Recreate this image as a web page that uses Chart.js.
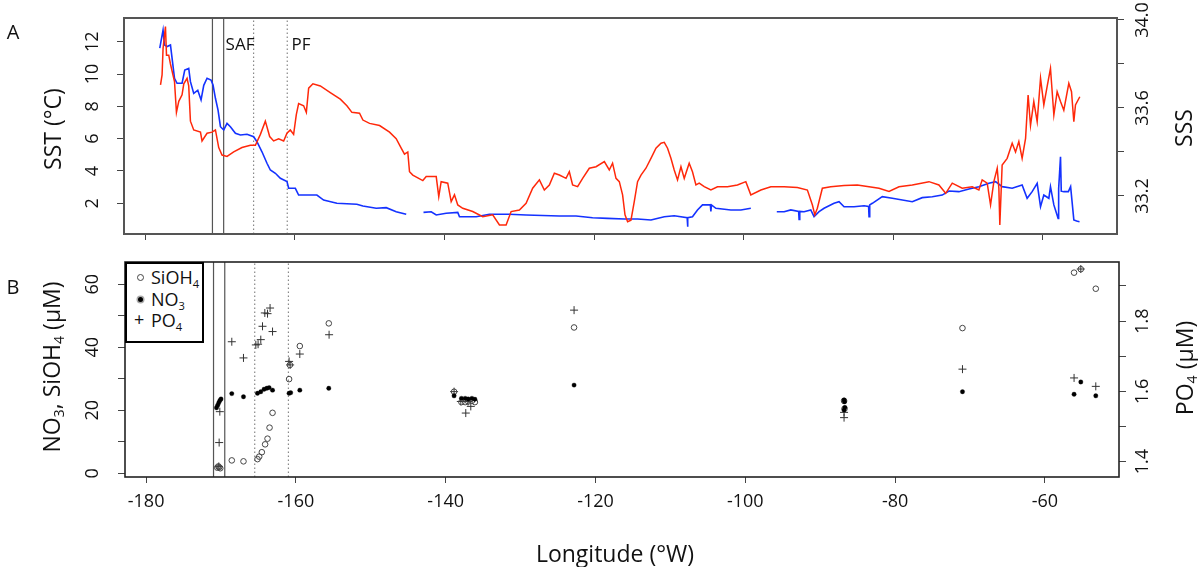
<!DOCTYPE html>
<html><head><meta charset="utf-8">
<script src="https://cdn.jsdelivr.net/npm/chart.js@4.4.1/dist/chart.umd.min.js"></script>
<style>
body{margin:0;background:#fff;}
#wrap{position:relative;width:1198px;height:567px;overflow:hidden;background:#fff;font-family:'Open Sans',sans-serif;color:#111;}
canvas{position:absolute;left:0;}
.t{position:absolute;white-space:nowrap;transform:translate(-50%,-50%);line-height:1;}
.r{transform:translate(-50%,-50%) rotate(-90deg);}
sub{font-size:0.62em;vertical-align:-0.32em;line-height:0;}
#leg{position:absolute;left:125px;top:262px;width:75px;height:77px;border:2px solid #000;background:#fff;}
#leg .s{position:absolute;}
#leg .l{position:absolute;left:24px;font-size:18px;line-height:1;transform:translateY(-50%);white-space:nowrap;}
</style></head><body>
<div id="wrap">
<canvas id="topc" width="1198" height="250" style="top:0"></canvas>
<canvas id="botc" width="1198" height="317" style="top:250px"></canvas>
<div class="t" style="left:13px;top:32px;font-size:20px">A</div>
<div class="t" style="left:13px;top:287px;font-size:20px">B</div>
<div class="t r" style="left:52px;top:129px;font-size:23px">SST (°C)</div>
<div class="t r" style="left:1183px;top:128px;font-size:23px">SSS</div>
<div class="t r" style="left:51px;top:367px;font-size:23px">NO<sub>3</sub>, SiOH<sub>4</sub> (µM)</div>
<div class="t r" style="left:1184px;top:368px;font-size:23px">PO<sub>4</sub> (µM)</div>
<div class="t" style="left:615px;top:553px;font-size:23px">Longitude (°W)</div>
<div class="t" style="left:240px;top:43px;font-size:17px">SAF</div>
<div class="t" style="left:301px;top:43px;font-size:17px">PF</div>
<div id="leg">
  <span class="s" style="left:10px;top:10px;width:5px;height:5px;border:1px solid #444;border-radius:50%"></span>
  <span class="l" style="top:13px">SiOH<sub>4</sub></span>
  <span class="s" style="left:10.5px;top:32.5px;width:5px;height:5px;background:#000;border-radius:50%;box-shadow:0 0 0 1.5px #aaa"></span>
  <span class="l" style="top:35px">NO<sub>3</sub></span>
  <span class="s" style="left:7px;top:45px;font-size:18px;line-height:20px">+</span>
  <span class="l" style="top:56px">PO<sub>4</sub></span>
</div>
</div>
<script>
// ---- axis ticks ----
const xTicks = [-180, -160, -140, -120, -100, -80, -60];
const sstTicks = [2, 4, 6, 8, 10, 12];
const sssTicks = [33.2, 33.4, 33.6, 33.8, 34.0];
const sssLabels = [33.2, 33.6, 34.0];
const nutTicks = [0, 10, 20, 30, 40, 50, 60];
const nutLabels = [0, 20, 40, 60];
const po4Ticks = [1.4, 1.5, 1.6, 1.7, 1.8, 1.9];
const po4Labels = [1.4, 1.6, 1.8];

// ---- fronts (longitude) ----
const solidFronts = [-171.0, -169.5];
const dottedFronts = [-165.5, -161.0];

// ---- SST (blue, left axis) ----
const sstLon = [-178.04,-177.6,-177.41,-177.06,-176.61,-176.4,-176.07,-175.73,-175.06,-174.7,-174.17,-173.94,-173.5,-172.96,-172.52,-172.16,-171.72,-171.19,-170.92,-170.6,-170.25,-169.93,-169.49,-169.05,-168.6,-167.93,-167.26,-166.38,-165.49,-165.05,-164.38,-163.71,-163.26,-162.59,-161.92,-161.04,-160.81,-159.92,-159.48,-157.92,-157.04,-156.14,-154.37,-151.7,-150.89,-149.11,-147.77,-146.44,-145.1,
 -144.0,
 -142.79,-141.76,-141.09,-139.76,-138.21,-137.98,-135.75,-133.98,-131.31,-129.08,-124.63,-122.4,-120.19,-118.18,-115.95,-114.18,-112.39,-110.61,-109.28,-107.55,-107.5,-107.45,-106.84,-106.17,-105.5,-104.45,-104.38,-104.3,-103.71,-101.71,-100.37,-99.04,
 -97.0,
 -95.57,-94.59,-93.7,-92.65,-92.59,-92.5,-91.92,-91.03,-90.59,-89.92,-89.25,-87.92,-87.25,-86.58,-85.25,-83.91,-83.3,-83.24,-83.15,-82.8,-81.47,-80.13,-77.46,-76.13,-74.79,-73.46,-72.56,-71.23,-69.89,-68.56,-67.22,-66.33,-65.45,-64.11,-62.78,-62.11,-61.44,-60.77,-60.32,-59.88,-59.21,-58.99,-58.54,-57.97,-57.9,-57.65,-57.55,-57.2,-56.6,-56.3,-55.87,-55.5,-55.11];
const sstVal = [11.6,12.72,11.8,11.7,11.8,11.0,9.74,9.43,9.43,10.25,10.35,9.53,8.8,9.0,8.4,9.3,9.74,9.63,9.32,8.5,7.77,6.74,6.54,6.95,6.74,6.33,6.23,6.27,6.12,5.81,5.19,4.48,4.06,3.86,3.55,3.34,2.93,2.93,2.51,2.51,2.51,2.2,2.0,1.94,1.83,1.69,1.73,1.48,1.32,
 null,
 1.44,1.48,1.28,1.38,1.44,1.17,1.17,1.32,1.32,1.28,1.21,1.21,1.11,1.07,1.03,1.03,0.97,1.17,1.23,1.11,0.55,1.11,1.17,1.59,1.9,1.9,1.5,1.9,1.69,1.59,1.59,1.69,
 null,
 1.48,1.48,1.59,1.5,1.0,1.5,1.48,1.59,1.17,1.48,1.69,2.0,2.1,1.79,1.79,1.85,1.8,1.17,1.9,2.0,2.41,2.31,2.1,2.35,2.41,2.51,2.76,2.72,2.88,3.03,3.24,3.34,3.03,2.93,3.13,2.31,2.72,3.24,1.79,2.51,2.31,3.03,1.9,1.07,2.9,4.88,2.75,2.72,2.72,3.03,0.97,0.9,0.86];

// ---- SSS (red, right axis) ----
const sssLon = [-177.94,-177.73,-177.6,-177.28,-177.14,-176.84,-176.61,-176.07,-175.81,-175.5,-175.06,-174.83,-174.39,-174.17,-173.94,-173.5,-172.6,-172.39,-171.72,-171.05,-170.6,-170.16,-169.72,-169.05,-168.16,-167.05,-165.93,-165.26,-164.59,-163.93,-163.35,-162.82,-162.15,-161.48,-161.04,-160.59,-160.15,-159.79,-159.48,-158.81,-158.45,-158.14,-157.57,-156.58,-155.25,-153.91,-153.03,-152.36,-151.34,-150.89,-150.0,-148.66,-147.33,-146.44,-145.77,-145.33,-144.89,-144.66,-144.22,-142.88,-142.43,-141.09,-140.75,-140.43,-139.55,-139.09,-138.65,-138.21,-137.54,-136.21,-134.87,-133.54,-132.64,-131.75,-131.08,-129.97,-129.08,-128.2,-127.3,-126.64,-125.97,-125.3,-124.63,-123.74,-123.3,-122.86,-122.19,-121.52,-120.63,-119.73,-118.62,-117.96,-117.52,-117.06,-116.62,-116.18,-115.86,-115.51,-115.06,-114.62,-114.18,-113.72,-113.06,-112.39,-111.72,-111.05,-110.61,-110.17,-109.72,-109.28,-108.84,-108.38,-107.94,-107.28,-106.84,-106.38,-105.94,-105.27,-104.38,-103.5,-102.16,-100.83,-99.71,-99.04,-97.7,-96.37,-94.59,-92.82,-91.48,-90.81,-90.49,-90.15,-89.48,-88.36,-86.58,-84.81,-83.24,-81.91,-80.57,-79.24,-77.46,-75.23,-73.9,-73.0,-72.12,-70.79,-69.45,-68.56,-68.12,-67.45,-67.0,-66.56,-66.11,-65.89,-65.76,-65.45,-64.78,-64.11,-63.66,-63.22,-62.78,-62.32,-61.98,-61.66,-61.22,-60.77,-60.32,-59.88,-59.44,-58.99,-58.54,-58.1,-57.65,-57.21,-56.54,-56.18,-55.87,-55.65,-55.07];
const sssVal = [33.705,33.75,33.87,33.97,33.84,33.84,33.80,33.72,33.58,33.63,33.66,33.71,33.735,33.70,33.54,33.50,33.49,33.45,33.485,33.49,33.50,33.42,33.386,33.38,33.40,33.42,33.43,33.43,33.48,33.54,33.47,33.45,33.46,33.45,33.485,33.50,33.48,33.57,33.62,33.61,33.58,33.69,33.71,33.70,33.67,33.64,33.61,33.58,33.576,33.545,33.53,33.52,33.49,33.46,33.417,33.39,33.40,33.31,33.295,33.27,33.288,33.288,33.197,33.265,33.258,33.174,33.205,33.159,33.144,33.129,33.106,33.114,33.068,33.068,33.129,33.136,33.167,33.235,33.273,33.227,33.25,33.303,33.295,33.28,33.31,33.25,33.242,33.28,33.326,33.333,33.356,33.318,33.349,33.28,33.265,33.205,33.114,33.083,33.09,33.174,33.265,33.295,33.326,33.371,33.417,33.44,33.444,33.417,33.371,33.318,33.273,33.333,33.28,33.349,33.31,33.25,33.258,33.242,33.227,33.242,33.242,33.25,33.265,33.205,33.227,33.242,33.242,33.238,33.227,33.159,33.114,33.144,33.235,33.242,33.247,33.25,33.242,33.235,33.22,33.242,33.25,33.265,33.25,33.212,33.258,33.235,33.242,33.227,33.273,33.258,33.159,33.265,33.326,33.235,33.068,33.341,33.371,33.44,33.40,33.447,33.371,33.462,33.659,33.52,33.629,33.538,33.735,33.614,33.697,33.78,33.568,33.674,33.629,33.59,33.712,33.674,33.538,33.614,33.651];

// ---- nutrients ----
const siLon = [-170.5,-170.35,-170.25,-170.1,-168.56,-167.0,-165.13,-164.9,-164.55,-164.11,-163.79,-163.52,-163.12,-160.91,-160.8,-159.48,-155.61,-138.88,-137.9,-137.4,-137.0,-136.5,-136.1,-122.86,-86.81,-86.75,-71.0,-56.1,-55.2,-53.2];
const siVal = [1.8,2.2,1.9,1.6,4.1,3.8,4.5,5.3,6.7,9.2,11.0,14.5,19.2,29.9,34.4,40.4,47.6,25.9,22.6,22.6,22.8,23.0,22.6,46.3,23.0,20.5,46.1,63.7,64.8,58.6];
const no3Lon = [-170.6,-170.45,-170.3,-170.15,-170.0,-168.56,-167.0,-165.13,-164.69,-164.25,-163.89,-163.58,-163.12,-160.91,-160.7,-159.48,-155.61,-138.88,-137.9,-137.4,-137.0,-136.5,-136.1,-122.86,-86.81,-86.75,-86.81,-86.7,-71.0,-56.1,-55.2,-53.2];
const no3Val = [20.8,21.6,22.4,23.1,23.6,25.3,24.3,25.4,25.9,26.7,27.0,27.2,26.4,25.4,25.6,26.4,27.0,24.6,23.8,23.8,23.6,23.8,23.5,28.0,23.3,22.7,20.1,20.9,25.9,25.1,29.0,24.6];
const po4Lon = [-170.3,-170.25,-170.16,-168.56,-167.0,-165.35,-165.05,-164.69,-164.46,-164.15,-163.79,-163.45,-163.12,-160.91,-160.77,-159.48,-155.57,-138.88,-137.98,-137.32,-137.01,-136.65,-122.86,-86.81,-86.81,-71.0,-56.1,-55.2,-53.2];
const po4Val = [1.386,1.454,1.542,1.741,1.695,1.732,1.734,1.747,1.785,1.823,1.821,1.837,1.770,1.685,1.675,1.706,1.761,1.599,1.571,1.538,1.571,1.557,1.831,1.54,1.525,1.663,1.638,1.948,1.614];

// ---- axis ranges ----
const xRange = [-182.82, -50.1];
const sstRange = [0.1, 13.47];
const sssRange = [33.027, 34.009];
const nutRange = [-1.17, 67.08];
const po4Range = [1.356, 1.968];

const FONT = 'Open Sans';
function pts(xs, ys){ return xs.map((x,i)=>({x:x, y:ys[i]})); }
function frontData(list, r){ const d=[]; list.forEach(f=>{ d.push({x:f,y:r[0]},{x:f,y:r[1]},{x:f,y:null}); }); return d; }
function fmt1(v){ return v.toFixed(1); }
function fmt0(v){ return String(v); }

const boxPlugin = { id:'box', afterDatasetsDraw(chart, args, opts){
  const c = chart.ctx, a = chart.chartArea;
  c.save(); c.strokeStyle = opts.color; c.lineWidth = opts.width;
  c.strokeRect(a.left, a.top, a.right-a.left, a.bottom-a.top); c.restore(); } };

function yScale(pos, range, ticks, labels, widthPx, pad, fmt){
  return { type:'linear', position:pos, min:range[0], max:range[1],
    afterBuildTicks: s => { s.ticks = ticks.map(v=>({value:v})); },
    afterFit: s => { s.width = widthPx; s.paddingTop = 0; s.paddingBottom = 0; },
    grid:{drawOnChartArea:false, drawTicks:true, tickLength:7, tickColor:'#444', tickWidth:1},
    border:{display:false},
    ticks:{ autoSkip:false, minRotation:90, maxRotation:90, crossAlign:'center', padding:pad, color:'#111',
      font:{family:FONT, size:18}, callback: v => labels.includes(v) ? fmt(v) : '' } };
}
function xScale(show, heightPx, pad){
  return { type:'linear', position:'bottom', min:xRange[0], max:xRange[1],
    afterBuildTicks: s => { s.ticks = xTicks.map(v=>({value:v})); },
    afterFit: s => { s.height = heightPx; s.paddingLeft = 0; s.paddingRight = 0; },
    grid:{drawOnChartArea:false, drawTicks:true, tickLength:6, tickColor:'#444', tickWidth:1},
    border:{display:false},
    ticks:{ display:show, autoSkip:false, minRotation:0, maxRotation:0, padding:pad, color:'#111',
      font:{family:FONT, size:18}, callback: v => String(v) } };
}

const common = { responsive:false, animation:false, events:[],
  plugins:{ legend:{display:false}, tooltip:{enabled:false} } };

new Chart(document.getElementById('topc'), {
  type:'scatter',
  data:{ datasets:[
    { data: pts(sssLon, sssVal), yAxisID:'yR', showLine:true, borderColor:'rgb(255,40,10)', borderWidth:1.5, pointRadius:0, spanGaps:false },
    { data: pts(sstLon, sstVal), yAxisID:'y', showLine:true, borderColor:'rgb(20,50,255)', borderWidth:1.6, pointRadius:0, spanGaps:false },
    { data: frontData(solidFronts, sstRange), yAxisID:'y', showLine:true, borderColor:'#555', borderWidth:1.2, pointRadius:0, spanGaps:false },
    { data: frontData(dottedFronts, sstRange), yAxisID:'y', showLine:true, borderColor:'#888', borderWidth:1.2, borderDash:[1.5,2.5], pointRadius:0, spanGaps:false }
  ]},
  options: Object.assign({}, common, {
    layout:{ padding:{ top:18, left:0, right:0, bottom:0 } },
    scales:{
      x: xScale(false, 16, 4),
      y: yScale('left', sstRange, sstTicks, sstTicks, 124, 14, fmt0),
      yR: yScale('right', sssRange, sssTicks, sssLabels, 81, 1, fmt1)
    },
    plugins:{ legend:{display:false}, tooltip:{enabled:false}, box:{color:'#555', width:2} }
  }),
  plugins:[boxPlugin]
});

new Chart(document.getElementById('botc'), {
  type:'scatter',
  data:{ datasets:[
    { data: pts(no3Lon, no3Val), yAxisID:'y', pointStyle:'circle', pointRadius:2.2, backgroundColor:'#000', borderColor:'rgba(0,0,0,0.3)', borderWidth:1 },
    { data: pts(siLon, siVal), yAxisID:'y', pointStyle:'circle', pointRadius:2.8, backgroundColor:'rgba(0,0,0,0)', borderColor:'#444', borderWidth:1 },
    { data: pts(po4Lon, po4Val), yAxisID:'yR', pointStyle:'cross', pointRadius:4, borderColor:'#333', borderWidth:1 },
    { data: frontData(solidFronts, nutRange), yAxisID:'y', showLine:true, borderColor:'#555', borderWidth:1.2, pointRadius:0, spanGaps:false },
    { data: frontData(dottedFronts, nutRange), yAxisID:'y', showLine:true, borderColor:'#888', borderWidth:1.2, borderDash:[1.5,2.5], pointRadius:0, spanGaps:false }
  ]},
  options: Object.assign({}, common, {
    layout:{ padding:{ top:12, left:0, right:0, bottom:0 } },
    scales:{
      x: xScale(true, 90, 8),
      y: yScale('left', nutRange, nutTicks, nutLabels, 125, 15, fmt0),
      yR: yScale('right', po4Range, po4Ticks, po4Labels, 79, 4, fmt1)
    },
    plugins:{ legend:{display:false}, tooltip:{enabled:false}, box:{color:'#222', width:1.6} }
  }),
  plugins:[boxPlugin]
});
</script>
</body></html>
